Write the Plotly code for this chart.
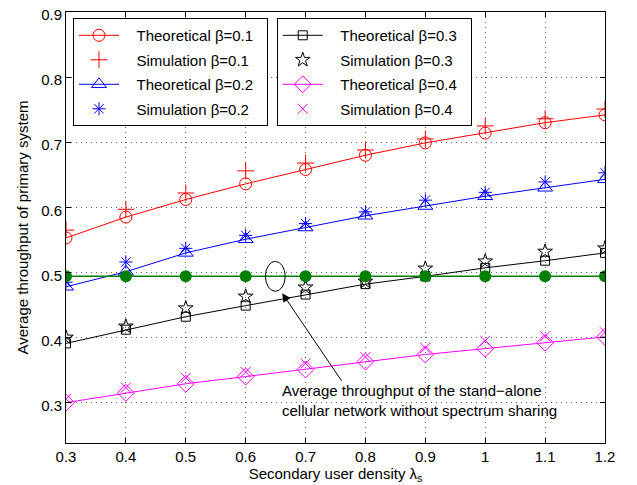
import plotly.graph_objects as go

x = [0.3, 0.4, 0.5, 0.6, 0.7, 0.8, 0.9, 1.0, 1.1, 1.2]

theo_01 = [0.553, 0.585, 0.612, 0.636, 0.658, 0.680, 0.699, 0.714, 0.730, 0.742]
sim_01  = [0.565, 0.597, 0.622, 0.656, 0.668, 0.688, 0.705, 0.725, 0.736, 0.751]
theo_02 = [0.478, 0.501, 0.530, 0.551, 0.569, 0.587, 0.602, 0.617, 0.630, 0.643]
sim_02  = [0.485, 0.516, 0.537, 0.557, 0.575, 0.593, 0.611, 0.623, 0.639, 0.653]
theo_03 = [0.391, 0.412, 0.432, 0.449, 0.466, 0.482, 0.494, 0.507, 0.518, 0.530]
sim_03  = [0.400, 0.417, 0.445, 0.463, 0.477, 0.486, 0.506, 0.517, 0.532, 0.537]
theo_04 = [0.300, 0.315, 0.329, 0.340, 0.351, 0.363, 0.374, 0.383, 0.392, 0.401]
sim_04  = [0.306, 0.323, 0.338, 0.347, 0.360, 0.370, 0.384, 0.395, 0.402, 0.408]
standalone = [0.494] * 10

xticks = [0.3, 0.4, 0.5, 0.6, 0.7, 0.8, 0.9, 1.0, 1.1, 1.2]
xticklabels = ["0.3", "0.4", "0.5", "0.6", "0.7", "0.8", "0.9", "1", "1.1", "1.2"]
yticks = [0.3, 0.4, 0.5, 0.6, 0.7, 0.8, 0.9]

FONT = "Liberation Sans, Arial, Helvetica, sans-serif"
RED, BLUE, BLACK, MAG, GREEN = "#ff0000", "#0000ff", "#000000", "#ff00ff", "#007f00"
PAD = "\u00a0" * 3
TAIL = "\u00a0" * 2

fig = go.Figure()

def add(y, name, color, symbol, size, mode, legend, group):
    fig.add_trace(go.Scatter(
        x=x, y=y, name=PAD + name + TAIL, mode=mode, legend=legend, legendgroup=group,
        line=dict(color=color, width=1),
        marker=dict(symbol=symbol, size=size, color=color,
                    line=dict(color=color, width=1)),
    ))

add(theo_01, "Theoretical β=0.1", RED, "circle-open", 12, "lines+markers", "legend", "a")
add(sim_01, "Simulation β=0.1", RED, "cross-thin-open", 12, "markers", "legend", "b")
add(theo_02, "Theoretical β=0.2", BLUE, "triangle-up-open", 13, "lines+markers", "legend", "c")
add(sim_02, "Simulation β=0.2", BLUE, "asterisk-open", 11, "markers", "legend", "d")
add(theo_03, "Theoretical β=0.3", BLACK, "square-open", 9, "lines+markers", "legend2", "e")
add(sim_03, "Simulation β=0.3", BLACK, "star-open", 11, "markers", "legend2", "f")
add(theo_04, "Theoretical β=0.4", MAG, "diamond-open", 13, "lines+markers", "legend2", "g")
add(sim_04, "Simulation β=0.4", MAG, "x-thin-open", 10, "markers", "legend2", "h")

fig.add_trace(go.Scatter(
    x=x, y=standalone, mode="lines+markers", showlegend=False,
    line=dict(color=GREEN, width=1.5),
    marker=dict(symbol="circle", size=12, color=GREEN),
))

# ellipse
fig.add_shape(type="circle", xref="x", yref="y", x0=0.633, x1=0.666, y0=0.471, y1=0.517,
              line=dict(color="black", width=1))

fig.add_annotation(x=0.661, y=0.468, ax=0.762, ay=0.331, xref="x", yref="y",
                   axref="x", ayref="y", text="", showarrow=True,
                   arrowhead=2, arrowsize=1.7, arrowwidth=1, arrowcolor="black")
fig.add_annotation(x=0.658, y=0.303, xref="x", yref="y", showarrow=False,
                   xanchor="left", yanchor="middle",
                   text="Average throughput of the stand−alone<br>cellular network without spectrum sharing",
                   font=dict(family=FONT, size=15, color="black"), align="left")

legend_common = dict(bordercolor="black", borderwidth=1, bgcolor="white",
                     font=dict(family=FONT, size=15, color="black"),
                     xanchor="left", yanchor="top", tracegroupgap=2,
                     itemwidth=40)

grid = dict(showgrid=True, gridcolor="#666666", griddash="1px,4px", gridwidth=1)

# page body adds an 8px offset, so the figure is sized to fit the window after it
fig.update_layout(
    width=629, height=477,
    margin=dict(l=58, r=32, t=4, b=42),
    paper_bgcolor="white", plot_bgcolor="white",
    font=dict(family=FONT, size=15, color="black"),
    legend=dict(x=0.013, y=0.986, **legend_common),
    legend2=dict(x=0.391, y=0.986, **legend_common),
    xaxis=dict(range=[0.3, 1.2], tickvals=xticks, ticktext=xticklabels, automargin=False,
               showline=True, linecolor="black", linewidth=1, mirror="ticks",
               ticks="inside", ticklen=5, tickcolor="black", ticklabeloverflow="allow",
               tickfont=dict(size=15), zeroline=False, **grid,
               title=dict(text="Secondary user density λ<sub>s</sub>", font=dict(size=15), standoff=2)),
    yaxis=dict(range=[0.238, 0.9], tickvals=yticks, tickformat=".1f", automargin=False,
               showline=True, linecolor="black", linewidth=1, mirror="ticks",
               ticks="inside", ticklen=5, tickcolor="black", ticklabeloverflow="allow",
               ticklabelshift=3,
               tickfont=dict(size=15), zeroline=False, **grid,
               title=dict(text="Average throughput of primary system", font=dict(size=15), standoff=8)),
)

fig.write_html("out.html")
